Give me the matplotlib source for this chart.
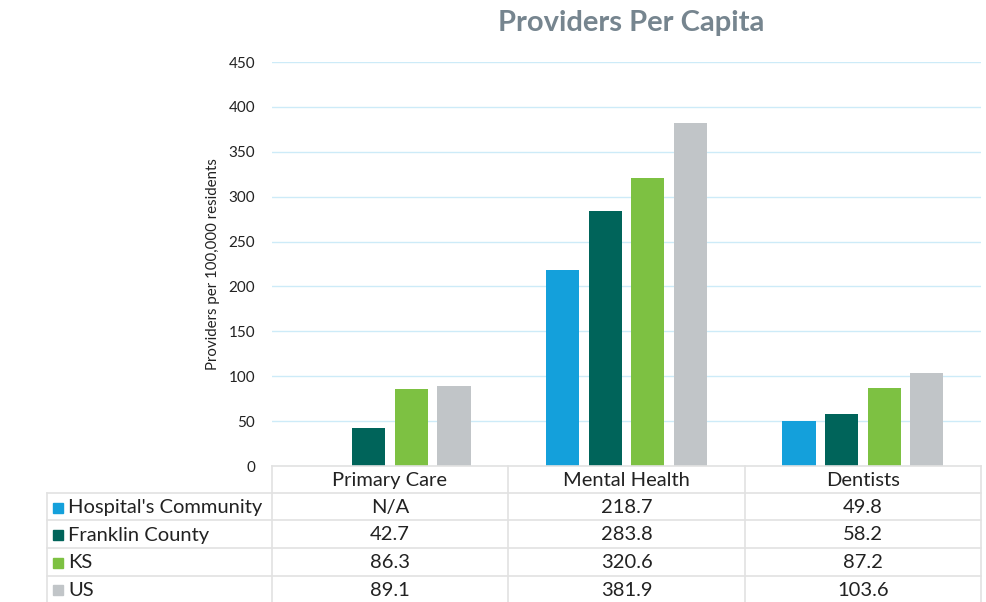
import numpy as np
import matplotlib.pyplot as plt
from matplotlib.lines import Line2D
from matplotlib.patches import Rectangle

plt.rcParams['font.family'] = ['Lato', 'DejaVu Sans']

categories = ['Primary Care', 'Mental Health', 'Dentists']
series = ["Hospital's Community", 'Franklin County', 'KS', 'US']
hospital = [np.nan, 218.7, 49.8]
franklin = [42.7, 283.8, 58.2]
ks = [86.3, 320.6, 87.2]
us = [89.1, 381.9, 103.6]
colors = ['#14A0DB', '#00645A', '#7DC142', '#C1C5C8']

W, H = 986, 602
fig = plt.figure(figsize=(W / 100, H / 100), dpi=100)


def fx(px):
    return px / W


def fy(py):
    return 1 - py / H


ax_l, ax_r, ax_t, ax_b = 272, 981, 62, 466
ax = fig.add_axes([fx(ax_l), fy(ax_b), fx(ax_r - ax_l), fy(ax_t) - fy(ax_b)])

values = [hospital, franklin, ks, us]
x = np.arange(len(categories))
step = 0.18
bw = 0.14
for i, (vals, c) in enumerate(zip(values, colors)):
    v = np.nan_to_num(np.array(vals, dtype=float))
    ax.bar(x + (i - 1.5) * step, v, width=bw, color=c, zorder=3)

ax.set_xlim(-0.5, len(categories) - 0.5)
ax.set_ylim(0, 450)
ax.set_yticks(np.arange(0, 451, 50))
ax.set_xticks([])
ax.tick_params(axis='y', length=0, labelsize=11, colors='#222222', pad=12)
for s in ax.spines.values():
    s.set_visible(False)
ax.grid(axis='y', color='#CDEBF8', linewidth=1, zorder=0)
ax.set_ylabel('Providers per 100,000 residents', fontsize=10.8, color='#222222', labelpad=6)

fig.text(fx(631), fy(23), 'Providers Per Capita', ha='center', va='center',
         fontsize=21, fontweight='bold', color='#76858F')

# data table below the plot
line_c = '#E2E2E2'
col_x = [47, 272, 508, 745, 981]
row_y = [466, 493, 520, 548, 576, 602]


def hline(y, x0, x1):
    fig.add_artist(Line2D([fx(x0), fx(x1)], [fy(y), fy(y)], color=line_c, lw=1.2))


def vline(x0, y0, y1):
    fig.add_artist(Line2D([fx(x0), fx(x0)], [fy(y0), fy(y1)], color=line_c, lw=1.2))


hline(row_y[0], col_x[1], col_x[-1])
for y in row_y[1:-1]:
    hline(y, col_x[0], col_x[-1])
vline(col_x[0], row_y[1], H)
for xx in col_x[1:]:
    vline(xx, row_y[0], H)

fs = 14.5
for j, cat in enumerate(categories):
    cx = (col_x[j + 1] + col_x[j + 2]) / 2
    cy = (row_y[0] + row_y[1]) / 2 + 1
    fig.text(fx(cx), fy(cy), cat, ha='center', va='center', fontsize=fs, color='#222222')

for i, (name, vals, c) in enumerate(zip(series, values, colors)):
    cy = (row_y[i + 1] + row_y[i + 2]) / 2 + 1
    fig.add_artist(Rectangle((fx(53), fy(cy + 5)), fx(10), fy(0) - fy(10), color=c,
                             transform=fig.transFigure))
    fig.text(fx(68), fy(cy), name, ha='left', va='center', fontsize=fs, color='#222222')
    for j, v in enumerate(vals):
        cx = (col_x[j + 1] + col_x[j + 2]) / 2
        txt = 'N/A' if np.isnan(v) else f'{v:.1f}'
        fig.text(fx(cx), fy(cy), txt, ha='center', va='center', fontsize=fs, color='#222222')

fig.savefig('out.png', dpi=100)
